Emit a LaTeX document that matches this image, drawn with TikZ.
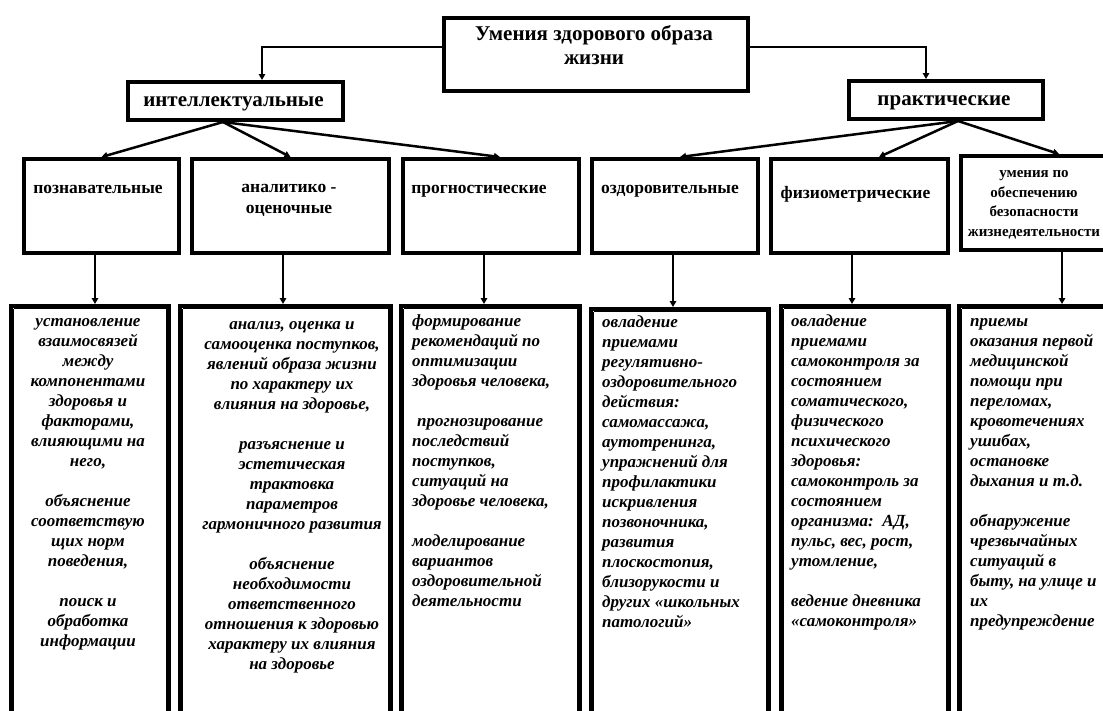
\documentclass[tikz,border=0pt]{standalone}
\usepackage{fontspec}
\setmainfont{Liberation Serif}[BoldFont={Liberation Serif Bold},BoldItalicFont={Liberation Serif Bold Italic},ItalicFont={Liberation Serif Italic}]
\usetikzlibrary{arrows.meta,calc}
\begin{document}
\begin{tikzpicture}[x=1pt,y=-1pt,
  hbox/.style={draw, line width=4pt, inner sep=0pt, anchor=north west},
  lbox/.style={draw, line width=3.5pt, inner sep=0pt, anchor=north west, minimum height=456pt},
  arr/.style={line width=2.5pt, -{Triangle[length=6pt,width=6.5pt]}},
  ttl/.style={font=\bfseries\fontsize{21}{24}\selectfont, align=center, inner sep=0pt},
  lvl/.style={font=\bfseries\fontsize{17.5}{21}\selectfont, align=center, inner sep=0pt},
  small/.style={font=\bfseries\fontsize{15}{19.5}\selectfont, align=center, inner sep=0pt},
  body/.style={font=\bfseries\itshape\fontsize{17}{20}\selectfont, inner sep=0pt}]
\useasboundingbox (0,0) rectangle (1103,710);
\clip (0,0) rectangle (1103,710);
% top level
\node[hbox, minimum width=304pt, minimum height=73pt] (top) at (442,16) {};
\node[ttl, anchor=north] (ttop) at (594,23) {\strut Умения здорового образа\\жизни};
\node[hbox, minimum width=215pt, minimum height=38pt] (intel) at (126,80) {};
\node[ttl, anchor=base] (tintel) at (233.5,106) {интеллектуальные};
\node[hbox, minimum width=194pt, minimum height=38pt] (pract) at (847,79) {};
\node[ttl, anchor=base] (tpract) at (944,105) {практические};
% level 2
\node[hbox, minimum width=155pt, minimum height=94pt] (b1) at (22,157) {};
\node[hbox, minimum width=197pt, minimum height=94pt] (b2) at (190,157) {};
\node[hbox, minimum width=176pt, minimum height=94pt] (b3) at (401,157) {};
\node[hbox, minimum width=166pt, minimum height=94pt] (b4) at (590,157) {};
\node[hbox, minimum width=177pt, minimum height=94pt] (b5) at (769,157) {};
\node[hbox, minimum width=156pt, minimum height=94pt] (b6) at (959,154) {};
\node[lvl, anchor=base] (t1) at (98,193) {познавательные};
\node[lvl, anchor=north] (t2) at (289,178) {\strut аналитико -\\оценочные};
\node[lvl, anchor=base] (t3) at (479,193) {прогностические};
\node[lvl, anchor=base] (t4) at (670,193) {оздоровительные};
\node[lvl, anchor=base] (t5) at (855.5,198) {физиометрические};
\node[small, anchor=north] (t6) at (1034,164) {\strut умения по\\обеспечению\\безопасности\\жизнедеятельности};
% lower boxes
\node[lbox, minimum width=158pt] (L1) at (9,304) {};
\node[lbox, minimum width=211pt] (L2) at (178,304) {};
\node[lbox, minimum width=179pt] (L3) at (399,304) {};
\node[lbox, minimum width=178pt] (L4) at (589,307) {};
\node[lbox, minimum width=168pt] (L5) at (779,304) {};
\node[lbox, minimum width=158pt] (L6) at (957,304) {};
\foreach \n in {L1,L2,L3,L4,L5,L6}{
  \draw[line width=1pt] ([shift={(4.5,4.5)}]\n.north west) -- ([shift={(-4.5,4.5)}]\n.north east) -- ([shift={(-4.5,0)}]\n.south east);
  \draw[line width=1pt] ([shift={(4.5,4.5)}]\n.north west) -- ([shift={(4.5,0)}]\n.south west);
}
% lower texts
\node[body, align=center, anchor=north] (x1) at (88,312) {\strut установление\\взаимосвязей\\между\\компонентами\\здоровья и\\факторами,\\влияющими на\\него,\\[20pt]объяснение\\соответствую\\щих норм\\поведения,\\[20pt]поиск и\\обработка\\информации};
\node[body, align=center, anchor=north] (x2) at (292,315) {\strut анализ, оценка и\\самооценка поступков,\\явлений образа жизни\\по характеру их\\влияния на здоровье,\\[20pt]разъяснение и\\эстетическая\\трактовка\\параметров\\гармоничного развития\\[20pt]объяснение\\необходимости\\ответственного\\отношения к здоровью\\характеру их влияния\\на здоровье};
\node[body, align=left, anchor=north west] (x3) at (412,312) {\strut формирование\\рекомендаций по\\оптимизации\\здоровья человека,\\[20pt]\hspace*{5pt}прогнозирование\\последствий\\поступков,\\ситуаций на\\здоровье человека,\\[20pt]моделирование\\вариантов\\оздоровительной\\деятельности};
\node[body, align=left, anchor=north west] (x4) at (602,313) {\strut овладение\\приемами\\регулятивно-\\оздоровительного\\действия:\\самомассажа,\\аутотренинга,\\упражнений для\\профилактики\\искривления\\позвоночника,\\развития\\плоскостопия,\\близорукости и\\других «школьных\\патологий»};
\node[body, align=left, anchor=north west] (x5) at (791,312) {\strut овладение\\приемами\\самоконтроля за\\состоянием\\соматического,\\физического\\психического\\здоровья:\\самоконтроль за\\состоянием\\организма:~~АД,\\пульс, вес, рост,\\утомление,\\[20pt]ведение дневника\\«самоконтроля»};
\node[body, align=left, anchor=north west] (x6) at (970,312) {\strut приемы\\оказания первой\\медицинской\\помощи при\\переломах,\\кровотечениях\\ушибах,\\остановке\\дыхания и т.д.\\[20pt]обнаружение\\чрезвычайных\\ситуаций в\\быту, на улице и\\их\\предупреждение};
% connectors
\coordinate (y47) at (0,47);
\draw[arr] (top.west |- y47) -| ([xshift=136pt]intel.north west);
\draw[arr] (top.east |- y47) -| ([xshift=79pt]pract.north west);
\coordinate (io) at ([xshift=-12.5pt]intel.south);
\draw[arr] (io) -- (b1.north);
\draw[arr] (io) -- (b2.north);
\draw[arr] (io) -- ([xshift=9pt]b3.north);
\coordinate (po) at ([xshift=12pt]pract.south);
\draw[arr] (po) -- ([xshift=5pt]b4.north);
\draw[arr] (po) -- ([xshift=19.5pt]b5.north);
\draw[arr] (po) -- ([xshift=20pt]b6.north);
\coordinate (a1) at (95,0);
\coordinate (a2) at (283,0);
\coordinate (a3) at (484,0);
\coordinate (a4) at (673,0);
\coordinate (a5) at (852,0);
\coordinate (a6) at (1062,0);
\draw[arr] (b1.south -| a1) -- (L1.north -| a1);
\draw[arr] (b2.south -| a2) -- (L2.north -| a2);
\draw[arr] (b3.south -| a3) -- (L3.north -| a3);
\draw[arr] (b4.south -| a4) -- (L4.north -| a4);
\draw[arr] (b5.south -| a5) -- (L5.north -| a5);
\draw[arr] (b6.south -| a6) -- (L6.north -| a6);
\end{tikzpicture}
\end{document}
